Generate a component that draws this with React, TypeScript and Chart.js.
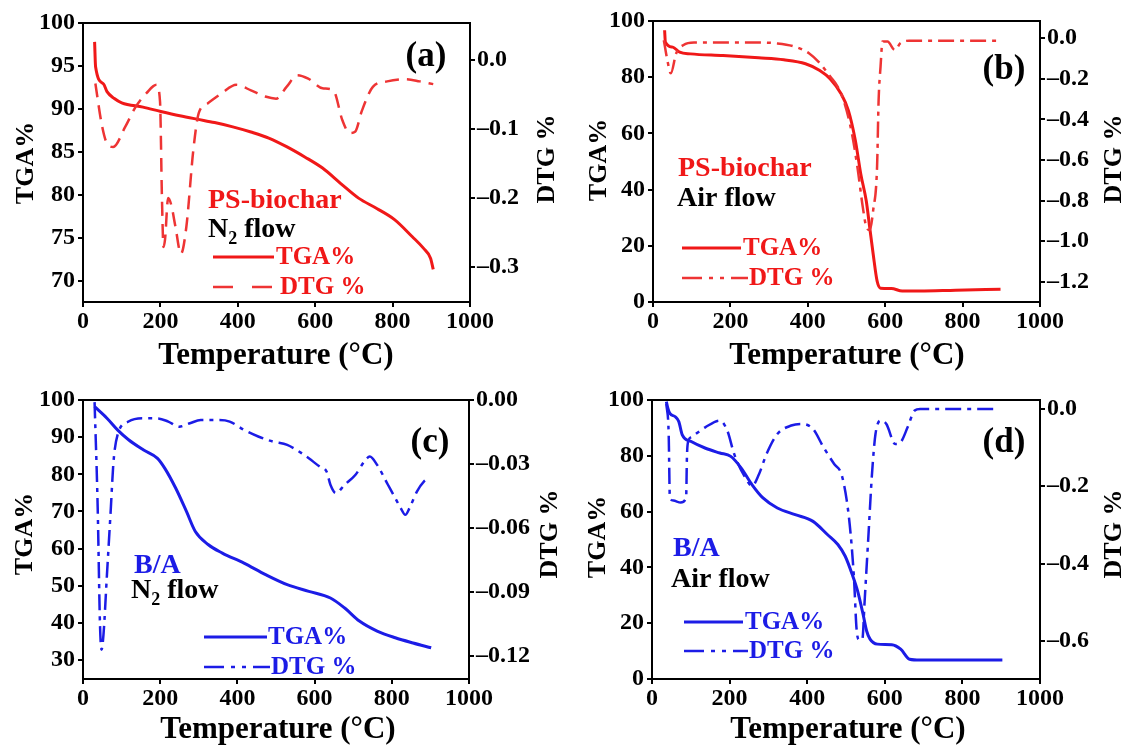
import React, { useEffect, useRef } from "react";
import { Chart, registerables } from "chart.js";

Chart.register(...registerables);

const FONT = '"Liberation Serif", "Times New Roman", Times, serif';
const RED = "#f01818";
const RED_DTG = "#ee3434";
const BLUE = "#1c1ce6";

const xTicks = [0, 200, 400, 600, 800, 1000];

// ---------- (a) PS-biochar, N2 flow ----------
const aTgaTemp = [30, 32.5, 53, 62, 81, 100, 155, 201, 250, 294, 340, 387, 434, 480, 526, 573, 619, 666, 712, 759, 805, 851, 879, 898, 905];
const aTga = [97.8, 94.9, 92.9, 92.0, 91.2, 90.7, 90.2, 89.7, 89.2, 88.8, 88.4, 87.9, 87.3, 86.6, 85.6, 84.4, 83.1, 81.3, 79.6, 78.4, 77.1, 75.1, 73.8, 72.6, 71.3];
const aDtgTemp = [32, 48, 62, 78, 109, 136, 164, 190, 199, 204, 208, 212, 220, 228, 239, 253, 267, 285, 299, 322, 359, 396, 434, 471, 499, 526, 554, 582, 619, 647, 670, 689, 703, 721, 749, 786, 833, 870, 905];
const aDtg = [-0.034, -0.092, -0.121, -0.126, -0.097, -0.068, -0.048, -0.036, -0.06, -0.2, -0.271, -0.26, -0.2, -0.21, -0.242, -0.281, -0.242, -0.131, -0.077, -0.063, -0.048, -0.036, -0.044, -0.053, -0.056, -0.039, -0.022, -0.027, -0.041, -0.044, -0.087, -0.106, -0.104, -0.073, -0.039, -0.031, -0.028, -0.031, -0.035];
const aTgaTicks = [70, 75, 80, 85, 90, 95, 100];
const aDtgTicks = [-0.3, -0.2, -0.1, 0.0];

// ---------- (b) PS-biochar, Air flow ----------
const bTgaTemp = [30, 32, 51, 69, 97, 181, 273, 338, 394, 431, 458, 486, 505, 523, 537, 551, 560, 569, 579, 588, 616, 644, 690, 782, 898];
const bTga = [96.7, 92.5, 90.7, 88.9, 88.3, 87.7, 86.9, 86.2, 84.8, 82.4, 79.4, 74.1, 68.1, 57.4, 45.5, 36.0, 26.5, 17.0, 7.5, 4.9, 4.8, 3.9, 3.9, 4.2, 4.5];
const bDtgTemp = [28, 37, 46, 60, 79, 106, 181, 273, 319, 366, 403, 431, 458, 477, 495, 514, 528, 542, 551, 560, 569, 579, 583, 588, 593, 606, 625, 639, 662, 898];
const bDtg = [-0.01, -0.107, -0.173, -0.074, -0.033, -0.021, -0.021, -0.021, -0.025, -0.041, -0.074, -0.123, -0.189, -0.238, -0.321, -0.469, -0.633, -0.831, -0.929, -0.946, -0.847, -0.633, -0.304, -0.14, -0.016, -0.016, -0.058, -0.025, -0.012, -0.012];
const bTgaTicks = [0, 20, 40, 60, 80, 100];
const bDtgTicks = [-1.2, -1.0, -0.8, -0.6, -0.4, -0.2, 0.0];

// ---------- (c) B/A, N2 flow ----------
const cTgaTemp = [30, 62, 90, 118, 156, 193, 212, 240, 268, 291, 324, 361, 417, 473, 529, 585, 641, 678, 716, 762, 809, 855, 902];
const cTga = [98.2, 95.1, 91.9, 89.3, 86.6, 84.3, 81.6, 76.3, 70.0, 64.6, 61.1, 58.8, 56.1, 53.0, 50.3, 48.5, 46.7, 44.0, 40.5, 37.8, 36.0, 34.6, 33.3];
const cDtgTemp = [30, 38, 44, 48, 53, 62, 72, 79, 90, 118, 156, 193, 221, 249, 277, 305, 352, 380, 417, 454, 492, 529, 566, 585, 613, 631, 641, 655, 678, 706, 729, 743, 762, 790, 809, 823, 835, 846, 865, 883, 897];
const cDtg = [-0.001, -0.05, -0.105, -0.117, -0.11, -0.082, -0.051, -0.029, -0.016, -0.0101, -0.0086, -0.0086, -0.0101, -0.0125, -0.0109, -0.0094, -0.0094, -0.0101, -0.014, -0.0171, -0.0195, -0.021, -0.0249, -0.0273, -0.0312, -0.0335, -0.0397, -0.0436, -0.0397, -0.035, -0.0288, -0.0265, -0.0304, -0.0397, -0.046, -0.0506, -0.0538, -0.0506, -0.0429, -0.0382, -0.0366];
const cTgaTicks = [30, 40, 50, 60, 70, 80, 90, 100];
const cDtgTicks = [-0.12, -0.09, -0.06, -0.03, 0.0];

// ---------- (d) B/A, Air flow ----------
const dTgaTemp = [37, 41, 46, 60, 69, 78, 101, 138, 175, 203, 230, 258, 286, 323, 369, 415, 452, 479, 498, 516, 530, 544, 553, 562, 581, 618, 641, 664, 691, 903];
const dTga = [99.4, 97.0, 95.2, 94.0, 92.3, 87.5, 85.1, 82.7, 81.0, 79.8, 75.6, 69.6, 64.9, 61.3, 58.9, 56.5, 51.8, 48.2, 44.0, 37.5, 31.5, 23.2, 17.3, 14.3, 12.5, 12.3, 10.7, 7.1, 6.8, 6.8];
const dDtgTemp = [37, 43, 46, 55, 74, 88, 90, 94, 101, 138, 175, 194, 212, 240, 258, 276, 295, 323, 359, 387, 415, 442, 470, 488, 502, 512, 521, 527, 533, 542, 548, 558, 567, 576, 590, 604, 627, 641, 659, 677, 691, 885];
const dDtg = [0.013, -0.065, -0.229, -0.237, -0.242, -0.229, -0.125, -0.082, -0.073, -0.047, -0.03, -0.056, -0.117, -0.177, -0.199, -0.168, -0.117, -0.065, -0.043, -0.039, -0.052, -0.099, -0.143, -0.168, -0.237, -0.324, -0.445, -0.566, -0.596, -0.596, -0.497, -0.324, -0.168, -0.065, -0.03, -0.039, -0.091, -0.086, -0.047, -0.004, 0.0, 0.0];
const dTgaTicks = [0, 20, 40, 60, 80, 100];
const dDtgTicks = [-0.6, -0.4, -0.2, 0.0];

type Txt = {
  t: string; x: number; y: number; size: number; color: string;
  align?: "left" | "center"; base?: CanvasTextBaseline; rot?: boolean;
};
type LegLine = { x1: number; x2: number; y: number; dash: number[]; width: number; color: string };

type Spec = {
  left: number; top: number; w: number; h: number;
  box: { l: number; r: number; t: number; xh: number };
  tgaT: number[]; tga: number[]; dtgT: number[]; dtg: number[];
  color: string; dtgColor: string; dash: number[];
  yTicks: number[]; yMin: number; yMax: number;
  y1Ticks: number[]; y1Min: number; y1Max: number; y1Dec: number;
  texts: Txt[]; legend: LegLine[];
};

const DASH_A = [14, 8];
const DASH_DOT = [16, 6, 4, 6];
const LEG_DASH = [20, 19];
const LEG_DASHDOT = [20, 7, 4, 7, 4, 7];

const LBL = 28;
const LEG = 25;
const PANEL = 35;

function axisTexts(xc: number, ylx: number, yly: number, yrx: number, yry: number): Txt[] {
  return [
    { t: "Temperature (\u00b0C)", x: xc, y: 364, size: 31, color: "#000", align: "center", base: "alphabetic" },
    { t: "TGA%", x: ylx, y: yly, size: 26, color: "#000", align: "center", base: "middle", rot: true },
    { t: "DTG %", x: yrx, y: yry, size: 26, color: "#000", align: "center", base: "middle", rot: true },
  ];
}

const specs: Spec[] = [
  {
    left: 0, top: 0, w: 562, h: 374,
    box: { l: 83, r: 92, t: 23, xh: 72 },
    tgaT: aTgaTemp, tga: aTga, dtgT: aDtgTemp, dtg: aDtg,
    color: RED, dtgColor: RED_DTG, dash: DASH_A,
    yTicks: aTgaTicks, yMin: 67.5, yMax: 100,
    y1Ticks: aDtgTicks, y1Min: -0.3507, y1Max: 0.0536, y1Dec: 1,
    texts: [
      { t: "(a)", x: 426, y: 57, size: PANEL, color: "#000", align: "center", base: "middle" },
      { t: "PS-biochar", x: 208, y: 208, size: LBL, color: RED, base: "alphabetic" },
      { t: "N_2 flow", x: 208, y: 237, size: LBL, color: "#000", base: "alphabetic" },
      { t: "TGA%", x: 276, y: 258, size: LEG, color: RED, base: "middle" },
      { t: "DTG %", x: 280, y: 288, size: LEG, color: RED, base: "middle" },
      ...axisTexts(276, 26, 163, 547, 159),
    ],
    legend: [
      { x1: 213, x2: 274, y: 257, dash: [], width: 3, color: RED },
      { x1: 213, x2: 274, y: 287, dash: LEG_DASH, width: 2.5, color: RED_DTG },
    ],
  },
  {
    left: 562, top: 0, w: 562, h: 374,
    box: { l: 91, r: 84, t: 21, xh: 72 },
    tgaT: bTgaTemp, tga: bTga, dtgT: bDtgTemp, dtg: bDtg,
    color: RED, dtgColor: RED_DTG, dash: DASH_DOT,
    yTicks: bTgaTicks, yMin: 0, yMax: 100,
    y1Ticks: bDtgTicks, y1Min: -1.3, y1Max: 0.085, y1Dec: 1,
    texts: [
      { t: "(b)", x: 442, y: 70, size: PANEL, color: "#000", align: "center", base: "middle" },
      { t: "PS-biochar", x: 116, y: 176, size: LBL, color: RED, base: "alphabetic" },
      { t: "Air flow", x: 115, y: 206, size: LBL, color: "#000", base: "alphabetic" },
      { t: "TGA%", x: 181, y: 249, size: LEG, color: RED, base: "middle" },
      { t: "DTG %", x: 187, y: 279, size: LEG, color: RED, base: "middle" },
      ...axisTexts(285, 37, 160, 552, 159),
    ],
    legend: [
      { x1: 120, x2: 179, y: 248, dash: [], width: 3, color: RED },
      { x1: 120, x2: 186, y: 278, dash: LEG_DASHDOT, width: 2.5, color: RED_DTG },
    ],
  },
  {
    left: 0, top: 374, w: 562, h: 375,
    box: { l: 83, r: 93, t: 26, xh: 70 },
    tgaT: cTgaTemp, tga: cTga, dtgT: cDtgTemp, dtg: cDtg,
    color: BLUE, dtgColor: BLUE, dash: DASH_DOT,
    yTicks: cTgaTicks, yMin: 24.9, yMax: 100,
    y1Ticks: cDtgTicks, y1Min: -0.1307, y1Max: 0.0, y1Dec: 2,
    texts: [
      { t: "(c)", x: 430, y: 69, size: PANEL, color: "#000", align: "center", base: "middle" },
      { t: "B/A", x: 134, y: 199, size: LBL, color: BLUE, base: "alphabetic" },
      { t: "N_2 flow", x: 131, y: 224, size: LBL, color: "#000", base: "alphabetic" },
      { t: "TGA%", x: 268, y: 264, size: LEG, color: BLUE, base: "middle" },
      { t: "DTG %", x: 271, y: 294, size: LEG, color: BLUE, base: "middle" },
      ...axisTexts(278, 25, 160, 550, 160),
    ],
    legend: [
      { x1: 204, x2: 267, y: 263, dash: [], width: 3, color: BLUE },
      { x1: 204, x2: 270, y: 293, dash: LEG_DASHDOT, width: 2.5, color: BLUE },
    ],
  },
  {
    left: 562, top: 374, w: 562, h: 375,
    box: { l: 90, r: 84, t: 26, xh: 70 },
    tgaT: dTgaTemp, tga: dTga, dtgT: dDtgTemp, dtg: dDtg,
    color: BLUE, dtgColor: BLUE, dash: DASH_DOT,
    yTicks: dTgaTicks, yMin: 0, yMax: 100,
    y1Ticks: dDtgTicks, y1Min: -0.698, y1Max: 0.023, y1Dec: 1,
    texts: [
      { t: "(d)", x: 442, y: 69, size: PANEL, color: "#000", align: "center", base: "middle" },
      { t: "B/A", x: 111, y: 182, size: LBL, color: BLUE, base: "alphabetic" },
      { t: "Air flow", x: 109, y: 213, size: LBL, color: "#000", base: "alphabetic" },
      { t: "TGA%", x: 183, y: 249, size: LEG, color: BLUE, base: "middle" },
      { t: "DTG %", x: 187, y: 278, size: LEG, color: BLUE, base: "middle" },
      ...axisTexts(286, 36, 163, 552, 160),
    ],
    legend: [
      { x1: 122, x2: 181, y: 248, dash: [], width: 3, color: BLUE },
      { x1: 122, x2: 186, y: 277, dash: LEG_DASHDOT, width: 2.5, color: BLUE },
    ],
  },
];

function drawRich(ctx: CanvasRenderingContext2D, s: string, x: number, y: number, size: number) {
  // "_X" renders X as subscript
  let cx = x;
  let i = 0;
  while (i < s.length) {
    if (s[i] === "_" && i + 1 < s.length) {
      ctx.font = `bold ${Math.round(size * 0.65)}px ${FONT}`;
      ctx.fillText(s[i + 1], cx, y + size * 0.25);
      cx += ctx.measureText(s[i + 1]).width;
      i += 2;
    } else {
      let j = i;
      while (j < s.length && s[j] !== "_") j++;
      const seg = s.slice(i, j);
      ctx.font = `bold ${size}px ${FONT}`;
      ctx.fillText(seg, cx, y);
      cx += ctx.measureText(seg).width;
      i = j;
    }
  }
}

function fmt(v: number, d: number) {
  const a = Math.abs(v).toFixed(d);
  return v < -1e-9 ? "\u2013" + a : a;
}

function Panel({ spec }: { spec: Spec }) {
  const ref = useRef<HTMLCanvasElement>(null);
  useEffect(() => {
    const canvas = ref.current;
    if (!canvas) return;
    const tickFont = { family: FONT, size: 24, weight: "bold" as const };
    const grid = { drawOnChartArea: false, drawTicks: true, tickLength: 5, lineWidth: 2, color: "#000" };
    const border = { display: true, color: "#000", width: 2 };
    const decor = {
      id: "decor",
      afterDraw(chart: any) {
        const ctx: CanvasRenderingContext2D = chart.ctx;
        const a = chart.chartArea;
        ctx.save();
        ctx.strokeStyle = "#000";
        ctx.lineWidth = 2;
        ctx.setLineDash([]);
        ctx.strokeRect(a.left, a.top, a.right - a.left, a.bottom - a.top);
        for (const l of spec.legend) {
          ctx.beginPath();
          ctx.strokeStyle = l.color;
          ctx.lineWidth = l.width;
          ctx.setLineDash(l.dash);
          ctx.moveTo(l.x1, l.y);
          ctx.lineTo(l.x2, l.y);
          ctx.stroke();
        }
        ctx.setLineDash([]);
        for (const t of spec.texts) {
          ctx.fillStyle = t.color;
          ctx.textBaseline = t.base || "alphabetic";
          ctx.font = `bold ${t.size}px ${FONT}`;
          if (t.rot) {
            ctx.save();
            ctx.translate(t.x, t.y);
            ctx.rotate(-Math.PI / 2);
            ctx.textAlign = "center";
            ctx.fillText(t.t, 0, 0);
            ctx.restore();
          } else if (t.t.includes("_")) {
            ctx.textAlign = "left";
            drawRich(ctx, t.t, t.x, t.y, t.size);
          } else {
            ctx.textAlign = t.align || "left";
            ctx.fillText(t.t, t.x, t.y);
          }
        }
        ctx.restore();
      },
    };
    const chart = new Chart(canvas, {
      type: "line",
      data: {
        datasets: [
          {
            label: "DTG %",
            data: spec.dtgT.map((t, i) => ({ x: t, y: spec.dtg[i] })),
            borderColor: spec.dtgColor,
            borderWidth: 2.5,
            borderDash: spec.dash,
            pointRadius: 0,
            fill: false,
            yAxisID: "y1",
            cubicInterpolationMode: "monotone",
          },
          {
            label: "TGA%",
            data: spec.tgaT.map((t, i) => ({ x: t, y: spec.tga[i] })),
            borderColor: spec.color,
            borderWidth: 3,
            pointRadius: 0,
            fill: false,
            yAxisID: "y",
            cubicInterpolationMode: "monotone",
          },
        ],
      },
      options: {
        animation: false,
        responsive: false,
        devicePixelRatio: 1,
        layout: { padding: { top: spec.box.t, left: 0, right: 0, bottom: 0 } },
        plugins: { legend: { display: false }, tooltip: { enabled: false }, title: { display: false } },
        scales: {
          x: {
            type: "linear",
            position: "bottom",
            min: 0,
            max: 1000,
            afterBuildTicks: (s: any) => { s.ticks = xTicks.map((v) => ({ value: v })); },
            afterFit: (s: any) => { s.height = spec.box.xh; },
            ticks: { font: tickFont, color: "#000", padding: 0, maxRotation: 0, autoSkip: false, callback: (v: any) => String(v) },
            grid,
            border,
          },
          y: {
            type: "linear",
            position: "left",
            min: spec.yMin,
            max: spec.yMax,
            afterBuildTicks: (s: any) => { s.ticks = spec.yTicks.map((v) => ({ value: v })); },
            afterFit: (s: any) => { s.width = spec.box.l; },
            ticks: { font: tickFont, color: "#000", padding: 3, autoSkip: false, callback: (v: any) => String(v) },
            grid,
            border,
          },
          y1: {
            type: "linear",
            position: "right",
            min: spec.y1Min,
            max: spec.y1Max,
            afterBuildTicks: (s: any) => { s.ticks = spec.y1Ticks.map((v) => ({ value: v })); },
            afterFit: (s: any) => { s.width = spec.box.r; },
            ticks: { font: tickFont, color: "#000", padding: 2, autoSkip: false, callback: (v: any) => fmt(Number(v), spec.y1Dec) },
            grid,
            border,
          },
        },
      } as any,
      plugins: [decor],
    });
    return () => chart.destroy();
  }, [spec]);
  return (
    <canvas
      ref={ref}
      width={spec.w}
      height={spec.h}
      style={{ position: "absolute", left: spec.left, top: spec.top, width: spec.w, height: spec.h }}
    />
  );
}

export default function App() {
  return (
    <div style={{ position: "absolute", left: 0, top: 0, width: 1124, height: 749, background: "#fff", overflow: "hidden" }}>
      {specs.map((s, i) => (
        <Panel key={i} spec={s} />
      ))}
    </div>
  );
}
